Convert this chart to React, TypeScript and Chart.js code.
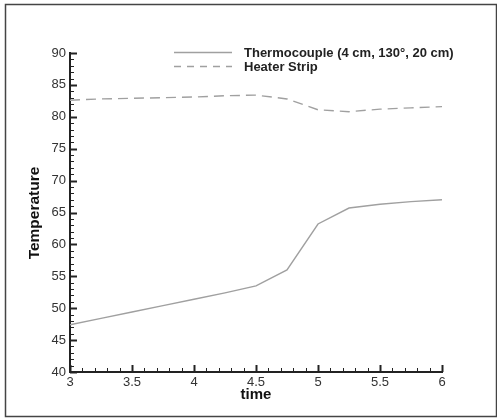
import React, { useEffect, useRef } from "react";
import { Chart, registerables } from "chart.js";

Chart.register(...registerables);

const times = [3, 3.25, 3.5, 3.75, 4, 4.25, 4.5, 4.75, 5, 5.25, 5.5, 5.75, 6];
const thermocouple = [47.4, 48.4, 49.4, 50.4, 51.4, 52.4, 53.5, 56.0, 63.2, 65.7, 66.3, 66.7, 67.0];
const heaterStrip = [82.6, 82.8, 82.9, 83.0, 83.1, 83.3, 83.4, 82.8, 81.1, 80.8, 81.2, 81.4, 81.6];
const seriesNames = ["Thermocouple (4 cm, 130°, 20 cm)", "Heater Strip"];
const xTitle = "time";
const yTitle = "Temperature";

const FONT = "'Liberation Sans', Arial, sans-serif";

const tickPlugin = {
  id: "inwardTicks",
  afterDraw(chart: any) {
    const ctx = chart.ctx;
    const x = chart.scales.x;
    const y = chart.scales.y;
    const area = chart.chartArea;
    ctx.save();
    ctx.strokeStyle = "#222";
    // y ticks
    for (let v = 40; v <= 90; v += 1) {
      const py = Math.round(y.getPixelForValue(v)) + 0.5;
      const major = v % 5 === 0;
      ctx.lineWidth = major ? 2 : 1;
      ctx.beginPath();
      ctx.moveTo(area.left, py);
      ctx.lineTo(area.left + (major ? 7 : 4), py);
      ctx.stroke();
    }
    // x ticks
    for (let i = 0; i <= 30; i++) {
      const v = 3 + i * 0.1;
      const px = Math.round(x.getPixelForValue(v)) + 0.5;
      const major = i % 5 === 0;
      ctx.lineWidth = major ? 2 : 1;
      ctx.beginPath();
      ctx.moveTo(px, area.bottom);
      ctx.lineTo(px, area.bottom - (major ? 7 : 4));
      ctx.stroke();
    }
    // axis titles
    ctx.fillStyle = "#111";
    ctx.font = "bold 15px " + FONT;
    ctx.textAlign = "center";
    ctx.textBaseline = "middle";
    ctx.fillText(xTitle, (area.left + area.right) / 2, 395);
    ctx.save();
    ctx.translate(35, 213);
    ctx.rotate(-Math.PI / 2);
    ctx.font = "bold 15.5px " + FONT;
    ctx.fillText(yTitle, 0, 0);
    ctx.restore();
    // legend
    const items = chart.data.datasets;
    const lx1 = 174, lx2 = 232, tx = 244;
    const rows = [52, 66];
    items.forEach((ds: any, i: number) => {
      const ry = rows[i] + 0.5;
      ctx.strokeStyle = ds.borderColor;
      ctx.lineWidth = ds.borderWidth;
      ctx.setLineDash(i === 1 ? [7, 6] : []);
      ctx.beginPath();
      ctx.moveTo(lx1, ry);
      ctx.lineTo(lx2, ry);
      ctx.stroke();
      ctx.setLineDash([]);
      ctx.fillStyle = "#222";
      ctx.font = "bold 13px " + FONT;
      ctx.textBaseline = "middle";
      ctx.textAlign = "left";
      ctx.fillText(ds.label, tx, rows[i] + 1);
    });
    // outer frame
    ctx.strokeStyle = "#444";
    ctx.lineWidth = 1.5;
    ctx.strokeRect(5.5, 4.5, 491, 412);
    ctx.restore();
  },
};

export default function App() {
  const ref = useRef<HTMLCanvasElement>(null);
  useEffect(() => {
    document.body.style.margin = "0";
    const canvas = ref.current!;
    const chart = new Chart(canvas, {
      type: "line",
      data: {
        datasets: [
          {
            label: seriesNames[0],
            data: times.map((t, i) => ({ x: t, y: thermocouple[i] })),
            borderColor: "#a0a0a0",
            borderWidth: 1.4,
            pointRadius: 0,
            tension: 0,
          },
          {
            label: seriesNames[1],
            data: times.map((t, i) => ({ x: t, y: heaterStrip[i] })),
            borderColor: "#a0a0a0",
            borderWidth: 1.4,
            borderDash: [10, 6],
            pointRadius: 0,
            tension: 0,
          },
        ],
      },
      options: {
        animation: false,
        responsive: false,
        maintainAspectRatio: false,
        layout: { padding: { left: 0, top: 53, right: 55, bottom: 0 } },
        plugins: { legend: { display: false }, tooltip: { enabled: false } },
        scales: {
          x: {
            type: "linear",
            min: 3,
            max: 6,
            grid: { display: false, drawTicks: false },
            border: { display: true, color: "#222", width: 2 },
            ticks: {
              stepSize: 0.5,
              padding: 3,
              color: "#333",
              font: { family: FONT, size: 13 },
              maxRotation: 0,
              callback: (v: any) => String(Number(v)),
            },
            title: { display: false },
            afterFit: (s: any) => {
              s.height = 47;
            },
          },
          y: {
            type: "linear",
            min: 40,
            max: 90,
            grid: { display: false, drawTicks: false },
            border: { display: true, color: "#222", width: 2 },
            ticks: {
              stepSize: 5,
              padding: 4,
              color: "#333",
              font: { family: FONT, size: 13 },
            },
            title: { display: false },
            afterFit: (s: any) => {
              s.width = 70;
            },
          },
        },
      },
      plugins: [tickPlugin],
    });
    return () => chart.destroy();
  }, []);
  return <canvas ref={ref} width={497} height={419} style={{ display: "block" }} />;
}
